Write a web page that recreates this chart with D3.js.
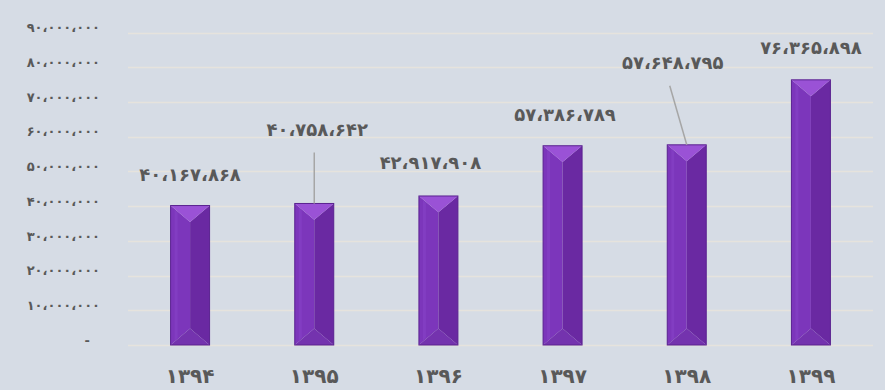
<!DOCTYPE html>
<html><head><meta charset="utf-8">
<script src="https://cdn.jsdelivr.net/npm/d3@7"></script>
<style>html,body{margin:0;padding:0;background:#d6dce5;}svg{display:block;}</style>
</head><body><div id="chart"></div>
<script>
const years = ["1394","1395","1396","1397","1398","1399"];
const values = [40167868, 40758642, 42917908, 57386789, 57648795, 76365898];
const yTicks = [0,10000000,20000000,30000000,40000000,50000000,60000000,70000000,80000000,90000000];

// label placement (layout, pixels relative to bar top-centre)
const labelDx = [0, 3, -8, 2.5, -14, 0];
const labelDy = [-31, -74, -33, -31, -82, -32];
const leader = [false, true, false, false, true, false];
const leaderDx = [0, 0, 0, 0, -17, 0];

const W = 885, H = 390;
const fa = s => String(s).replace(/[0-9]/g, d => "۰۱۲۳۴۵۶۷۸۹"[+d]);
const fmt = n => n === 0 ? "-" : fa(d3.format(",")(n)).replace(/,/g, "،");

const svg = d3.select("#chart").append("svg").attr("width", W).attr("height", H);
svg.append("rect").attr("width", W).attr("height", H).attr("fill", "#d6dce5");

const x = d3.scaleBand().domain(years).range([128, 873]).paddingInner(0.686).paddingOuter(0.343);
const y = d3.scaleLinear().domain([0, 90000000]).range([345, 32.5]);

// gridlines
svg.append("g").selectAll("line").data(yTicks).join("line")
  .attr("x1", 128).attr("x2", 873)
  .attr("y1", d => Math.round(y(d)) + 0.5).attr("y2", d => Math.round(y(d)) + 0.5)
  .attr("stroke", "#e6e3dd").attr("stroke-width", 1.6);

// y axis labels
const yAxis = d3.axisLeft(y).tickValues(yTicks).tickSize(0).tickPadding(0).tickFormat(fmt);
const ga = svg.append("g").attr("transform", "translate(100,-5)").call(yAxis);
ga.select(".domain").remove();
ga.selectAll("text").attr("fill", "#595959").attr("font-family", "DejaVu Sans")
  .attr("font-size", 13).attr("font-weight", "bold")
  .attr("dx", d => d === 0 ? -10 : 0);

// x axis labels
const xAxis = d3.axisBottom(x).tickSize(0).tickPadding(0).tickFormat(fa);
const gx = svg.append("g").attr("transform", "translate(0,369)").call(xAxis);
gx.select(".domain").remove();
gx.selectAll("text").attr("fill", "#595959").attr("font-family", "DejaVu Sans")
  .attr("font-size", 20).attr("font-weight", "bold").attr("dy", "0.7em");

// bars with bevel
const bars = svg.append("g").selectAll("g").data(values).join("g");
bars.each(function(v, i) {
  const g = d3.select(this);
  const x0 = x(years[i]), x1 = x0 + x.bandwidth(), xm = (x0 + x1) / 2;
  const y0 = y(v), y1 = y(0);
  const d = Math.min(x.bandwidth() * 0.42, (y1 - y0) / 2);
  const poly = (pts, fill) => g.append("polygon").attr("points", pts.map(p => p.join(",")).join(" ")).attr("fill", fill);
  poly([[x0,y0],[xm,y0+d],[xm,y1-d],[x0,y1]], "#7c36bb");
  poly([[x1,y0],[xm,y0+d],[xm,y1-d],[x1,y1]], "#6a29a2");
  poly([[x0,y0],[x1,y0],[xm,y0+d]], "#9a52d6");
  poly([[x0,y1],[x1,y1],[xm,y1-d]], "#7433ae");
  poly([[x0+4,y0+4],[x0+7,y0+7],[x0+7,y1-7],[x0+4,y1-4]], "#8440c4").attr("opacity", 0.7);
  g.append("rect").attr("x", x0).attr("y", y0).attr("width", x.bandwidth()).attr("height", y1 - y0)
    .attr("fill", "none").attr("stroke", "#5a2290").attr("stroke-width", 1);
});

// leader lines
values.forEach((v, i) => {
  if (!leader[i]) return;
  const cx = x(years[i]) + x.bandwidth() / 2;
  const lx = cx + leaderDx[i], ly = y(v) + labelDy[i] + 23;
  svg.append("line").attr("x1", lx).attr("y1", ly).attr("x2", cx).attr("y2", y(v))
    .attr("stroke", "#a6a6a6").attr("stroke-width", 1.5);
});

// data labels
svg.append("g").selectAll("text").data(values).join("text")
  .attr("x", (v, i) => x(years[i]) + x.bandwidth() / 2 + labelDx[i])
  .attr("y", (v, i) => y(v) + labelDy[i])
  .attr("dy", "0.35em").attr("text-anchor", "middle")
  .attr("fill", "#595959").attr("font-family", "DejaVu Sans")
  .attr("font-size", 18).attr("font-weight", "bold")
  .text(fmt);
</script></body></html>
